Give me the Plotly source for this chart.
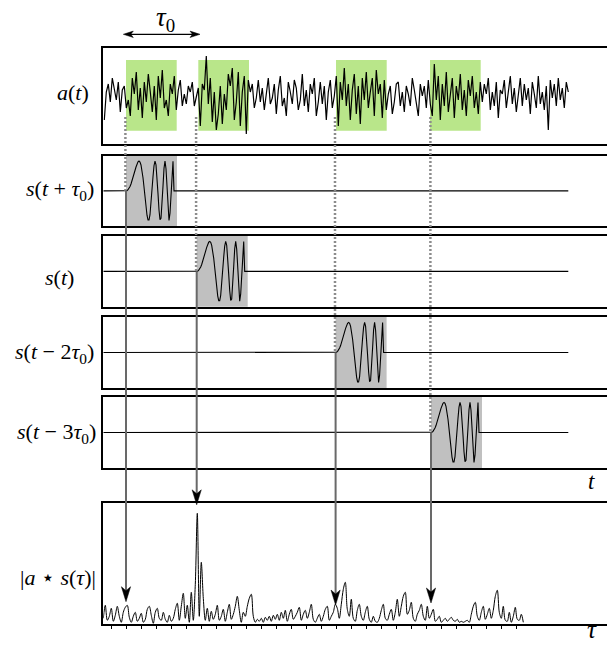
import plotly.graph_objects as go

W, H = 607, 646
X0 = 103.3            # left edge of the panels (px)
XR = W - X0           # x range in time units (1 unit = 1 px)

# ---------------- data ----------------
# noisy received signal a(t), sampled every 2 time units starting at t=1
noise = [
    -24, 4, 12, -6, 18, 8, -4, 14, -16, 6,
    10, -12, -4, -20, 18, 2, 24, -14, 8, -22,
    14, -6, 22, 4, -16, 10, -24, 20, -2, 26,
    -12, -4, -20, 12, 2, 20, -14, 6, 16, -10,
    2, -8, 10, 4, 14, -10, -2, 8, -30, 12,
    6, 40, -8, 18, -26, 4, -34, -18, 10, -28,
    2, -14, 22, 10, 28, -24, -6, 24, -30, 4,
    20, -38, 16, 4, 12, -12, -2, 16, -6, 8,
    -14, 2, 18, -8, -2, 12, -18, 6, 20, -10,
    -2, -20, 14, 4, -8, 16, 8, -14, -4, 22,
    -10, 6, -16, 12, 2, 18, -20, -6, 14, -8,
    10, -24, 4, 16, -12, 0, 20, -30, 14, -4,
    28, -10, 12, -24, 6, 22, -18, 10, -28, 18,
    -4, 24, -12, 4, 18, -20, 26, 2, 12, -22,
    16, -14, 2, 10, -18, -6, 12, 14, -10, 4,
    -16, 10, 2, -10, 18, 6, -6, -20, 12, 0,
    10, -12, 16, -8, -20, 32, -4, 20, -24, 12,
    -10, 24, -16, 4, 18, -22, 10, -4, 22, -14,
    6, -20, 16, 0, 20, -12, 4, -18, 14, -6,
    12, 2, 18, -14, 4, -10, 14, -22, 6, 2,
    16, -12, 2, 20, -8, 8, -16, 4, 18, -10,
    12, -4, 8, -18, 14, 2, -12, 20, -8, 4,
    -14, 10, -34, 16, -2, 12, -10, 18, -4, 8,
    -12, 14, 4,
]
noise_t = [1 + 2 * i for i in range(len(noise))]

# chirp template s(t), one sample per time unit
chirp = [
    0.000, 0.009, 0.037, 0.084, 0.148, 0.230, 0.328, 0.440, 0.560, 0.684,
    0.801, 0.902, 0.973, 1.000, 0.969, 0.868, 0.691, 0.440, 0.130, -0.212,
    -0.545, -0.818, -0.977, -0.979, -0.801, -0.457, 0.000, 0.473, 0.844, 0.999,
    0.872, 0.472, -0.093, -0.642, -0.969, -0.925, -0.497, 0.158, 0.755, 1.000,
    0.742, 0.082, -0.636, -0.996, -0.754, -0.027, 0.730, 0.994,
]
signal_end = 465
chirp_start = [22.7, 93.4, 232.3, 327.7]     # start of each shifted template
box_width = 51
window_start = [22.7, 95.0, 232.7, 326.7]    # highlighted windows in a(t)
window_width = 50.7

# |a * s(tau)|, sampled every 2 units starting at tau=0
corr = [
    6, 19, 4, 8, 16, 3, 9, 18, 8, 2,
    12, 17, 19, 7, 2, 8, 12, 3, 6, 11,
    2, 5, 15, 18, 9, 1, 12, 16, 6, 4,
    12, 5, 2, 9, 3, 6, 15, 21, 4, 18,
    31, 6, 19, 2, 32, 4, 40, 111, 8, 62,
    26, 4, 16, 3, 13, 5, 10, 19, 4, 8,
    15, 3, 12, 20, 5, 10, 18, 28, 14, 2,
    12, 8, 18, 26, 30, 8, 2, 5, 3, 6,
    2, 7, 4, 8, 3, 9, 5, 10, 4, 12,
    6, 14, 3, 10, 15, 5, 8, 12, 17, 4,
    10, 14, 6, 12, 20, 5, 2, 6, 10, 3,
    8, 15, 18, 4, 8, 12, 20, 16, 6, 20,
    35, 42, 15, 8, 25, 6, 3, 14, 20, 8,
    4, 12, 18, 5, 2, 8, 3, 2, 6, 14,
    20, 6, 4, 10, 15, 4, 12, 25, 8, 18,
    28, 32, 10, 14, 22, 6, 3, 10, 14, 20,
    8, 4, 18, 6, 10, 15, 3, 5, 8, 2,
    4, 6, 3, 5, 7, 4, 3, 5, 2, 3,
    2, 3, 4, 2, 10, 18, 22, 8, 4, 12,
    18, 5, 10, 16, 6, 14, 28, 34, 12, 6,
    18, 4, 3, 12, 2, 8, 17, 5, 4, 10,
    2,
]
tau = [2 * i for i in range(len(corr))]
arrow_tip = [22.6, 119.5, 19.3, 21.3]        # arrow tips in |a*s| units
bottom_ticks = [8 + 15 * k for k in range(28)]

labels = ["<i>a</i>(<i>t</i>)",
          "<i>s</i>(<i>t</i> + <i>τ</i><sub>0</sub>)",
          "<i>s</i>(<i>t</i>)",
          "<i>s</i>(<i>t</i> − 2<i>τ</i><sub>0</sub>)",
          "<i>s</i>(<i>t</i> − 3<i>τ</i><sub>0</sub>)",
          "|<i>a</i> ⋆ <i>s</i>(<i>τ</i>)|"]
label_pos = [(73, 92.5), (59.5, 190), (59, 277), (54, 353), (56, 433), (58, 577)]

SERIF = "Liberation Serif, Times New Roman, serif"

# ---------------- layout geometry ----------------
panels_px = [(47.7, 144.3), (155.7, 226.0), (236.0, 306.7),
             (317.0, 388.0), (397.0, 468.0), (503.0, 624.3)]


def py(px):
    return 1 - px / H


domains = [[py(b), py(t)] for t, b in panels_px]
mids_px = [(t + b) / 2 for t, b in panels_px]
y_ranges = [[-48.3, 48.3]] + [[-1.18, 1.18]] * 4 + [[0, panels_px[5][1] - panels_px[5][0]]]

fig = go.Figure()

# a(t)
fig.add_trace(go.Scatter(x=noise_t, y=noise, mode="lines", xaxis="x", yaxis="y",
                         line=dict(color="black", width=1.2), hoverinfo="skip"))

# shifted templates
for k, st in enumerate(chirp_start):
    xs = [0] + [st + i for i in range(len(chirp))] + [st + len(chirp), signal_end]
    ys = [0] + chirp + [0, 0]
    fig.add_trace(go.Scatter(x=xs, y=ys, mode="lines", xaxis=f"x{k+2}", yaxis=f"y{k+2}",
                             line=dict(color="black", width=1.1), hoverinfo="skip"))

# correlation
fig.add_trace(go.Scatter(x=tau, y=corr, mode="lines", xaxis="x6", yaxis="y6",
                         line=dict(color="black", width=1, shape="spline", smoothing=0.9),
                         hoverinfo="skip"))

axis_common = dict(showgrid=False, zeroline=False, showticklabels=False, ticks="",
                   showline=True, linecolor="black", linewidth=1.5, fixedrange=True)
for i in range(6):
    s = "" if i == 0 else str(i + 1)
    xa = dict(axis_common, domain=[X0 / W, 1], range=[0, XR], mirror=True, anchor=f"y{s}")
    if i == 5:
        xa.update(ticks="outside", ticklen=2.5, tickwidth=1, tickcolor="black",
                  tickmode="array", tickvals=bottom_ticks)
    ya = dict(axis_common, domain=domains[i], range=y_ranges[i], mirror=False, anchor=f"x{s}")
    fig.layout[f"xaxis{s}"] = xa
    fig.layout[f"yaxis{s}"] = ya

shapes = []
# green windows in a(t)
for ws in window_start:
    shapes.append(dict(type="rect", xref="x", yref="y domain", x0=ws, x1=ws + window_width,
                       y0=0.141, y1=0.873, fillcolor="rgb(185,230,138)",
                       line=dict(width=0), layer="below"))
# gray boxes under templates
for k, st in enumerate(chirp_start):
    shapes.append(dict(type="rect", xref=f"x{k+2}", yref=f"y{k+2} domain", x0=st, x1=st + box_width,
                       y0=0, y1=1, fillcolor="rgb(192,192,192)", line=dict(width=0), layer="below"))

for k, st in enumerate(chirp_start):
    base_px = mids_px[k + 1]
    # dotted link from a(t) window to template start
    shapes.append(dict(type="line", xref="x", yref="paper", x0=st - 0.6, x1=st - 0.6,
                       y0=py(117), y1=py(base_px),
                       line=dict(color="rgb(140,140,140)", width=2.5, dash="2px,2px")))
    tip_px = panels_px[5][1] - arrow_tip[k]
    # shaft
    shapes.append(dict(type="line", xref="x", yref="paper", x0=st, x1=st,
                       y0=py(base_px), y1=py(tip_px - 10),
                       line=dict(color="rgb(105,105,105)", width=2)))
    # stealth arrow head
    hl, hw, nt = 15, 4.6, 4
    path = (f"M {st},{py(tip_px)} L {st-hw},{py(tip_px-hl)} L {st},{py(tip_px-hl+nt)} "
            f"L {st+hw},{py(tip_px-hl)} Z")
    shapes.append(dict(type="path", xref="x", yref="paper", path=path,
                       fillcolor="black", line=dict(color="black", width=0.5)))

# tau0 double arrow
ya_px = 34.3
xa0, xa1 = 123.3 - X0, 200.0 - X0
shapes.append(dict(type="line", xref="x", yref="paper", x0=xa0 + 4, x1=xa1 - 4,
                   y0=py(ya_px), y1=py(ya_px), line=dict(color="black", width=1.2)))
hl, hw, nt = 10, 3.2, 2.5
for tipx, d in [(xa0, 1), (xa1, -1)]:
    path = (f"M {tipx},{py(ya_px)} L {tipx + d*hl},{py(ya_px-hw)} L {tipx + d*(hl-nt)},{py(ya_px)} "
            f"L {tipx + d*hl},{py(ya_px+hw)} Z")
    shapes.append(dict(type="path", xref="x", yref="paper", path=path,
                       fillcolor="black", line=dict(color="black", width=0.5)))

annotations = []
for txt, (lx, ly) in zip(labels, label_pos):
    annotations.append(dict(text=txt, x=lx / W, y=py(ly), xref="paper", yref="paper",
                            xanchor="center", yanchor="middle", showarrow=False,
                            font=dict(family=SERIF, size=22, color="black")))
annotations.append(dict(text="<i>τ</i><sub>0</sub>", x=165 / W, y=py(19), xref="paper", yref="paper",
                        xanchor="center", yanchor="middle", showarrow=False,
                        font=dict(family=SERIF, size=27, color="black")))
annotations.append(dict(text="<i>t</i>", x=591 / W, y=py(481), xref="paper", yref="paper",
                        xanchor="center", yanchor="middle", showarrow=False,
                        font=dict(family=SERIF, size=23, color="black")))
annotations.append(dict(text="<i>τ</i>", x=592 / W, y=py(629), xref="paper", yref="paper",
                        xanchor="center", yanchor="middle", showarrow=False,
                        font=dict(family=SERIF, size=25, color="black")))

fig.update_layout(width=W, height=H, margin=dict(l=0, r=0, t=0, b=0),
                  paper_bgcolor="white", plot_bgcolor="rgba(0,0,0,0)",
                  showlegend=False, shapes=shapes, annotations=annotations,
                  font=dict(family=SERIF, color="black"))

fig.write_html("out.html", config={"displayModeBar": False},
               post_script="document.body.style.margin='0';document.body.style.overflow='hidden';")
